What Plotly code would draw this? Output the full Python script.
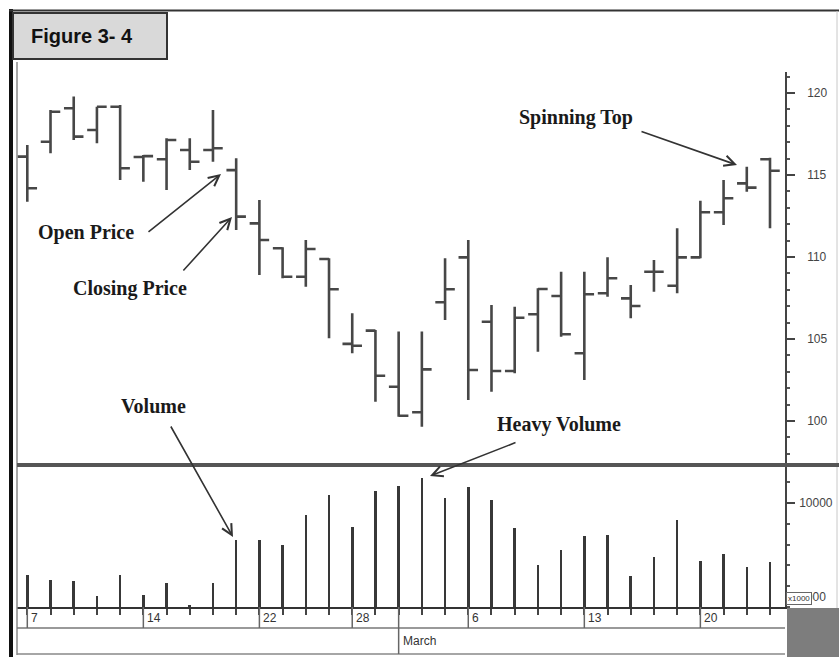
import plotly.graph_objects as go

# ---------------- data ----------------
dates = ["2000-02-07", "2000-02-08", "2000-02-09", "2000-02-10", "2000-02-11",
         "2000-02-14", "2000-02-15", "2000-02-16", "2000-02-17", "2000-02-18",
         "2000-02-22", "2000-02-23", "2000-02-24", "2000-02-25",
         "2000-02-28", "2000-02-29",
         "2000-03-01", "2000-03-02", "2000-03-03",
         "2000-03-06", "2000-03-07", "2000-03-08", "2000-03-09", "2000-03-10",
         "2000-03-13", "2000-03-14", "2000-03-15", "2000-03-16", "2000-03-17",
         "2000-03-20", "2000-03-21", "2000-03-22", "2000-03-23"]

opens = [116.12, 117.03, 119.07, 117.74, 119.16, 116.10, 115.96, 116.52, 116.52, 115.30,
         112.05, 110.53, 108.80, 109.88, 104.70, 105.51, 102.09, 100.53, 107.24, 109.98,
         106.05, 103.05, 106.51, 107.62, 104.13, 107.79, 107.48, 109.10, 108.25, 109.98,
         112.73, 114.49, 115.96]
highs = [116.83, 118.96, 119.78, 119.16, 119.27, 116.22, 117.24, 117.24, 118.96, 116.02,
         113.48, 110.60, 111.04, 109.92, 106.57, 105.55, 105.45, 105.45, 109.92, 111.04,
         107.07, 106.97, 108.09, 109.10, 109.10, 109.98, 108.29, 109.82, 111.75, 113.43,
         114.70, 115.51, 116.05]
lows = [113.37, 116.32, 117.13, 116.93, 114.70, 114.59, 114.08, 115.30, 115.81, 111.65,
        108.90, 108.70, 108.19, 105.04, 104.13, 101.18, 100.26, 99.65, 106.16, 101.28,
        101.79, 102.91, 104.23, 105.14, 102.50, 107.58, 106.26, 107.88, 107.79, 109.92,
        111.95, 113.98, 111.75]
closes = [114.19, 118.86, 117.34, 119.16, 115.41, 116.15, 117.13, 115.81, 116.63, 112.46,
          111.04, 108.80, 110.49, 108.03, 104.59, 102.76, 100.32, 103.15, 108.03, 103.11,
          103.05, 106.30, 108.05, 105.29, 107.73, 108.70, 107.01, 109.10, 109.98, 112.73,
          113.58, 114.23, 115.26]
volumes = [3100, 2600, 2500, 1100, 3100, 1200, 2300, 150, 2300, 6400,
           6400, 6000, 8800, 10800, 7700, 11200, 11600, 12400, 10500, 11500,
           10300, 7600, 4000, 5500, 6800, 6900, 3000, 4800, 8400, 4400,
           5100, 3800, 4300]

week_start_idx = [0, 5, 10, 14, 19, 24, 29]
month_start_idx = [16]
month_names = {"03": "March"}
price_ticks = [100, 105, 110, 115, 120]
volume_ticks = [1000, 10000]
volume_tick_text = ["1000", "10000"]

notes = ["Spinning Top", "Open Price", "Closing Price", "Volume", "Heavy Volume"]

# ---------------- geometry helpers (pixels -> paper) ----------------
W, H = 839, 657
L, R, T, B = 17, 785, 72, 607


def px(x):
    return (x - L) / (R - L)


def py(y):
    return (B - y) / (B - T)


idx = list(range(len(dates)))

fig = go.Figure()
fig.add_trace(go.Ohlc(
    x=idx, open=opens, high=highs, low=lows, close=closes,
    increasing=dict(line=dict(color="#474747", width=2.6)),
    decreasing=dict(line=dict(color="#474747", width=2.6)),
    tickwidth=0.42, xaxis="x", yaxis="y", showlegend=False, hoverinfo="skip"))
fig.add_trace(go.Bar(
    x=idx, y=volumes, width=0.11, marker=dict(color="#383838", line=dict(width=0)),
    xaxis="x", yaxis="y2", showlegend=False, hoverinfo="skip"))

sp = 23.21
x_lo = -(27.3 - L) / sp
x_hi = (len(dates) - 1) + (R - 770) / sp

fig.update_layout(
    width=W, height=H,
    margin=dict(l=L, r=W - R, t=T, b=H - B, autoexpand=False),
    paper_bgcolor="white", plot_bgcolor="white",
    bargap=0,
    xaxis=dict(domain=[0, 1], anchor="y2", range=[x_lo, x_hi],
               rangeslider=dict(visible=False), showgrid=False, zeroline=False,
               showline=True, linecolor="#333", linewidth=2,
               tickmode="array", tickvals=idx, ticks="outside", ticklen=6,
               tickwidth=2, tickcolor="#444", showticklabels=False),
    yaxis=dict(domain=[py(465), 1], range=[100 - (465 - 421) / 16.4,
                                           100 - (465 - 421) / 16.4 + (465 - T) / 16.4],
               side="right", anchor="x", showgrid=False, zeroline=False,
               showline=True, linecolor="#444", linewidth=1.5,
               tickmode="array", tickvals=price_ticks,
               ticks="outside", ticklen=8, tickwidth=1.5, tickcolor="#444",
               ticklabelstandoff=10,
               minor=dict(tickmode="linear", tick0=0, dtick=1, ticks="outside",
                          ticklen=3, tickwidth=1.5, tickcolor="#555"),
               tickfont=dict(family="Liberation Sans", size=12, color="#444")),
    yaxis2=dict(domain=[0, py(467)], range=[0, (B - 467) * 10000 / 104],
                side="right", anchor="x", showgrid=False, zeroline=False,
                showline=True, linecolor="#444", linewidth=1.5,
                tickmode="array", tickvals=volume_ticks, ticktext=volume_tick_text,
                ticks="outside", ticklen=8, tickwidth=1.5, tickcolor="#444",
                ticklabelstandoff=2,
                minor=dict(tickmode="linear", tick0=0, dtick=2000, ticks="outside",
                           ticklen=3, tickwidth=1.5, tickcolor="#555"),
                tickfont=dict(family="Liberation Sans", size=12, color="#444")),
)

shapes = []
# frame lines
shapes.append(dict(type="line", xref="paper", yref="paper", x0=px(11), x1=px(11),
                   y0=py(9), y1=py(H + 2), line=dict(color="#111", width=4)))
shapes.append(dict(type="line", xref="paper", yref="paper", x0=px(9), x1=px(W + 2),
                   y0=py(10.5), y1=py(10.5), line=dict(color="#333", width=2)))
shapes.append(dict(type="line", xref="paper", yref="paper", x0=px(837), x1=px(837),
                   y0=py(11), y1=py(H), line=dict(color="#c8c8c8", width=1)))
shapes.append(dict(type="line", xref="paper", yref="paper", x0=px(17), x1=px(17),
                   y0=py(62), y1=py(655), line=dict(color="#8a8a8a", width=1.5)))
# thick separator between price and volume panes
shapes.append(dict(type="line", xref="paper", yref="paper", x0=px(17), x1=px(W + 2),
                   y0=py(465), y1=py(465), line=dict(color="#555", width=4)))
# date strip
shapes.append(dict(type="line", xref="paper", yref="paper", x0=px(17), x1=px(785),
                   y0=py(628), y1=py(628), line=dict(color="#777", width=1.5)))
shapes.append(dict(type="line", xref="paper", yref="paper", x0=px(17), x1=px(785),
                   y0=py(654), y1=py(654), line=dict(color="#888", width=1.5)))
for i in week_start_idx:
    shapes.append(dict(type="line", xref="x", yref="paper", x0=i, x1=i,
                       y0=py(607), y1=py(628), line=dict(color="#666", width=1.5)))
for i in month_start_idx:
    shapes.append(dict(type="line", xref="x", yref="paper", x0=i, x1=i,
                       y0=py(607), y1=py(654), line=dict(color="#666", width=1.5)))
# gray block bottom-right
shapes.append(dict(type="rect", xref="paper", yref="paper", x0=px(787), x1=px(W + 2),
                   y0=py(608), y1=py(H + 2), fillcolor="#7d7d7d", line=dict(width=0)))
# title box
shapes.append(dict(type="rect", xref="paper", yref="paper", x0=px(13), x1=px(167),
                   y0=py(13), y1=py(59), fillcolor="#d9d9d9",
                   line=dict(color="#333", width=2)))

anns = []
anns.append(dict(text="<b>Figure 3- 4</b>", xref="paper", yref="paper",
                 x=px(29), y=py(36), xanchor="left", yanchor="middle", showarrow=False,
                 font=dict(family="Liberation Sans", size=20, color="#111")))
for i in week_start_idx:
    anns.append(dict(text=str(int(dates[i][8:])), xref="x", yref="paper",
                     x=i + 0.08, y=py(618), xanchor="left", yanchor="middle",
                     showarrow=False,
                     font=dict(family="Liberation Sans", size=12, color="#333")))
for i in month_start_idx:
    anns.append(dict(text=month_names[dates[i][5:7]], xref="x", yref="paper",
                     x=i + 0.08, y=py(641), xanchor="left", yanchor="middle",
                     showarrow=False,
                     font=dict(family="Liberation Sans", size=12, color="#333")))
anns.append(dict(text="x1000", xref="paper", yref="paper", x=px(786), y=py(598),
                 xanchor="left", yanchor="middle", showarrow=False, bgcolor="white",
                 bordercolor="#666", borderwidth=1, borderpad=1,
                 font=dict(family="Liberation Sans", size=8, color="#333")))

text_pos = [(576, 117), (86, 233), (130, 288), (153, 406), (559, 424)]
for t, (cx, cy) in zip(notes, text_pos):
    anns.append(dict(text="<b>" + t + "</b>", xref="paper", yref="paper",
                     x=px(cx), y=py(cy),
                     xanchor="center", yanchor="middle", showarrow=False,
                     font=dict(family="Liberation Serif", size=20, color="#1a1a1a")))

arrows = [((640, 131), (737, 165)), ((147, 233), (221, 174)), ((182, 272), (232, 217)),
          ((170, 425), (233, 537)), ((517, 442), (430, 476))]
for (tx, ty), (hx, hy) in arrows:
    anns.append(dict(text="", xref="paper", yref="paper", x=px(hx), y=py(hy),
                     ax=tx - hx, ay=ty - hy, showarrow=True, arrowhead=5,
                     arrowsize=1.3, arrowwidth=1.6, arrowcolor="#333",
                     standoff=0, startstandoff=0))

fig.update_layout(shapes=shapes, annotations=anns)
fig.write_html("out.html",
               config={"displayModeBar": False},
               post_script="document.body.style.margin='0px';"
                           "document.body.style.overflow='hidden';")
